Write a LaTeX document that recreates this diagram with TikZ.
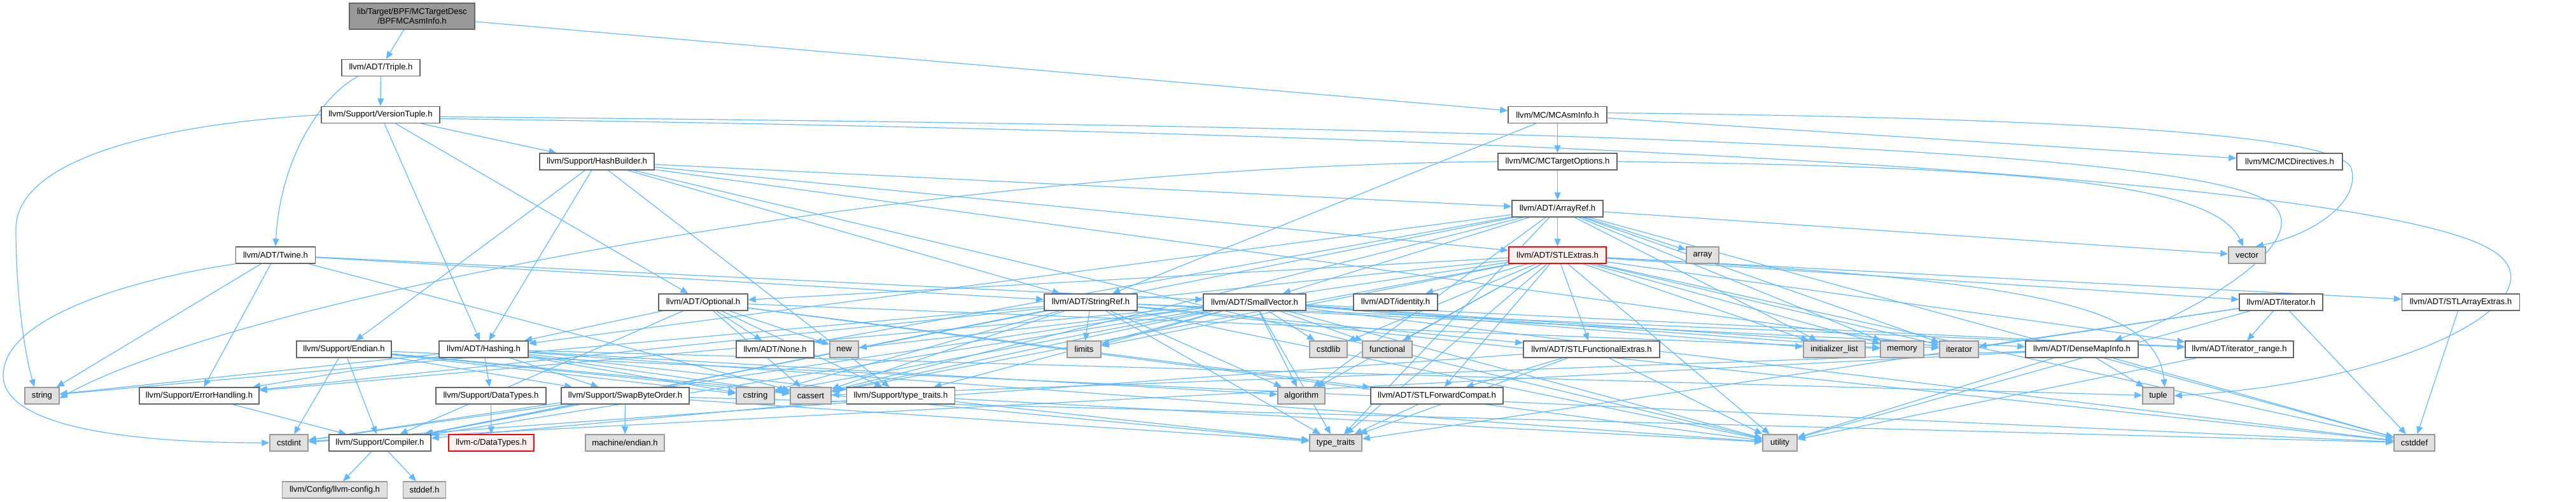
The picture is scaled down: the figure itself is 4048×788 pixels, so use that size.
\documentclass[tikz,border=0pt]{standalone}
\usepackage{fontspec}
\setmainfont{Liberation Sans}
\usetikzlibrary{arrows.meta}
\definecolor{edgeblue}{HTML}{63B8FF}
\definecolor{bordgray}{HTML}{666666}
\definecolor{sysfill}{HTML}{E0E0E0}
\definecolor{sysdraw}{HTML}{999999}
\definecolor{rootfill}{HTML}{999999}
\definecolor{truncfill}{HTML}{FFF0F0}
\definecolor{truncdraw}{HTML}{FF0000}
\pgfdeclarelayer{bg}
\pgfsetlayers{bg,main}
\begin{document}
\begin{tikzpicture}[x=1pt,y=-1pt,
  base/.style={inner sep=0pt, minimum height=26pt, line width=1.5pt,
    font=\fontsize{13.1}{15.5}\selectfont, text=black},
  nd/.style={base, draw=bordgray, fill=white},
  sys/.style={base, draw=sysdraw, fill=sysfill},
  trunc/.style={base, draw=truncdraw, fill=truncfill},
  rootn/.style={base, draw=bordgray, fill=rootfill, align=center},
  dep/.style={draw=edgeblue, line width=1.2pt, -{Triangle[length=12pt,width=10pt]}}]
\useasboundingbox (0,0) rectangle (4048,788);

\node[rootn, minimum width=197, minimum height=41] (root) at (647.5,25.5) {lib/Target/BPF/MCTargetDesc\\/BPFMCAsmInfo.h};
\node[nd, minimum width=123] (triple) at (598.5,106.5) {llvm/ADT/Triple.h};
\node[nd, minimum width=186] (vtuple) at (598,180.5) {llvm/Support/VersionTuple.h};
\node[nd, minimum width=155] (mcasm) at (2447.5,180.5) {llvm/MC/MCAsmInfo.h};
\node[nd, minimum width=166] (mcdir) at (3598,254) {llvm/MC/MCDirectives.h};
\node[nd, minimum width=187] (mctopt) at (2447.5,254) {llvm/MC/MCTargetOptions.h};
\node[nd, minimum width=180] (hashb) at (938,254) {llvm/Support/HashBuilder.h};
\node[nd, minimum width=143] (arrayref) at (2447.5,328) {llvm/ADT/ArrayRef.h};
\node[nd, minimum width=125] (twine) at (433,401) {llvm/ADT/Twine.h};
\node[trunc, minimum width=153] (stlext) at (2447.5,401) {llvm/ADT/STLExtras.h};
\node[sys, minimum width=51] (array) at (2675.5,401) {array};
\node[sys, minimum width=58] (vector) at (3531,401) {vector};
\node[nd, minimum width=140] (optional) at (1105,475) {llvm/ADT/Optional.h};
\node[nd, minimum width=146] (stringref) at (1714,475) {llvm/ADT/StringRef.h};
\node[nd, minimum width=161] (smallvec) at (1971.5,475) {llvm/ADT/SmallVector.h};
\node[nd, minimum width=132] (identity) at (2193,475) {llvm/ADT/identity.h};
\node[nd, minimum width=131] (iterh) at (3584.5,475) {llvm/ADT/iterator.h};
\node[nd, minimum width=185] (stlarr) at (3867,475) {llvm/ADT/STLArrayExtras.h};
\node[nd, minimum width=149] (endian) at (540.5,549) {llvm/Support/Endian.h};
\node[nd, minimum width=140] (hashing) at (760,549) {llvm/ADT/Hashing.h};
\node[nd, minimum width=122] (none) at (1218,549) {llvm/ADT/None.h};
\node[sys, minimum width=45] (new) at (1326.5,549) {new};
\node[sys, minimum width=53] (limits) at (1703.5,549) {limits};
\node[sys, minimum width=59] (cstdlib) at (2087.5,549) {cstdlib};
\node[sys, minimum width=78] (functional) at (2180,549) {functional};
\node[nd, minimum width=214] (stlfunc) at (2501,549) {llvm/ADT/STLFunctionalExtras.h};
\node[sys, minimum width=97] (initlist) at (2882.5,549) {initializer\_list};
\node[sys, minimum width=68] (memory) at (2989,549) {memory};
\node[sys, minimum width=61] (iterator) at (3078.5,549) {iterator};
\node[nd, minimum width=170] (iterrange) at (3519,549) {llvm/ADT/iterator\_range.h};
\node[nd, minimum width=177] (densemap) at (3271.5,549) {llvm/ADT/DenseMapInfo.h};
\node[sys, minimum width=54] (string) at (66,622) {string};
\node[nd, minimum width=188] (errh) at (313,622) {llvm/Support/ErrorHandling.h};
\node[nd, minimum width=173] (datatypes) at (771.5,622) {llvm/Support/DataTypes.h};
\node[nd, minimum width=201] (swapbo) at (982.5,622) {llvm/Support/SwapByteOrder.h};
\node[sys, minimum width=60] (cstring) at (1187,622) {cstring};
\node[sys, minimum width=64] (cassert) at (1274,622) {cassert};
\node[nd, minimum width=170] (stypetr) at (1415.5,622) {llvm/Support/type\_traits.h};
\node[sys, minimum width=74] (algorithm) at (2045,622) {algorithm};
\node[nd, minimum width=208] (stlfwd) at (2258,622) {llvm/ADT/STLForwardCompat.h};
\node[sys, minimum width=49] (tuple) at (3391.5,622) {tuple};
\node[sys, minimum width=60] (cstdint) at (454,696) {cstdint};
\node[nd, minimum width=160] (compiler) at (597,696) {llvm/Support/Compiler.h};
\node[trunc, minimum width=134] (cdatatypes) at (772,696) {llvm-c/DataTypes.h};
\node[sys, minimum width=124] (mendian) at (982,696) {machine/endian.h};
\node[sys, minimum width=82] (typetraits) at (2099,696) {type\_traits};
\node[sys, minimum width=54] (utility) at (2797,696) {utility};
\node[sys, minimum width=64] (cstddef) at (3794,696) {cstddef};
\node[sys, minimum width=165] (llvmconfig) at (526,770) {llvm/Config/llvm-config.h};
\node[sys, minimum width=67] (stddefh) at (667,770) {stddef.h};

\begin{pgfonlayer}{bg}
\foreach \a/\b in {root/triple, root/mcasm, triple/vtuple,
  vtuple/hashing, vtuple/optional, vtuple/hashb,
  hashb/arrayref, hashb/hashing, hashb/stlext, hashb/stringref, hashb/endian, hashb/stypetr, hashb/iterator, hashb/utility,
  mcasm/stringref, mcasm/mcdir, mcasm/mctopt, mctopt/arrayref,
  arrayref/hashing, arrayref/none, arrayref/stlext, arrayref/smallvec, arrayref/compiler, arrayref/algorithm, arrayref/array, arrayref/cassert, arrayref/cstddef, arrayref/initlist, arrayref/iterator, arrayref/memory, arrayref/typetraits, arrayref/vector,
  twine/smallvec, twine/stringref, twine/errh, twine/cassert, twine/string,
  stlext/optional, stlext/stlarr, stlext/stlfwd, stlext/stlfunc, stlext/identity, stlext/iterh, stlext/iterrange, stlext/errh, stlext/algorithm, stlext/cassert, stlext/cstddef, stlext/cstdint, stlext/cstdlib, stlext/functional, stlext/initlist, stlext/iterator, stlext/limits, stlext/memory, stlext/typetraits, stlext/utility,
  optional/hashing, optional/none, optional/stlfwd, optional/compiler, optional/stypetr, optional/cassert, optional/memory, optional/new, optional/utility,
  stringref/densemap, stringref/stlfunc, stringref/iterrange, stringref/compiler, stringref/algorithm, stringref/cassert, stringref/cstddef, stringref/cstring, stringref/limits, stringref/string, stringref/typetraits, stringref/utility,
  smallvec/iterrange, smallvec/compiler, smallvec/errh, smallvec/stypetr, smallvec/algorithm, smallvec/cassert, smallvec/cstddef, smallvec/cstdlib, smallvec/cstring, smallvec/functional, smallvec/initlist, smallvec/iterator, smallvec/limits, smallvec/memory, smallvec/new, smallvec/typetraits, smallvec/utility,
  iterh/iterrange, iterh/cstddef, iterh/iterator, iterh/typetraits, iterh/utility,
  stlarr/cstddef,
  endian/compiler, endian/swapbo, endian/cassert, endian/cstddef, endian/cstdint, endian/cstring, endian/typetraits,
  hashing/datatypes, hashing/errh, hashing/swapbo, hashing/stypetr, hashing/algorithm, hashing/cassert, hashing/cstring, hashing/string, hashing/tuple, hashing/utility,
  stlfunc/stlfwd, stlfunc/typetraits, stlfunc/utility, stlfunc/cstdint,
  densemap/cassert, densemap/cstddef, densemap/cstdint, densemap/tuple, densemap/utility,
  iterrange/utility,
  stypetr/compiler, stypetr/typetraits, stypetr/utility,
  swapbo/compiler, swapbo/cstddef, swapbo/cstdint, swapbo/typetraits, swapbo/mendian,
  errh/compiler, datatypes/cdatatypes, compiler/llvmconfig, compiler/stddefh,
  stlfwd/typetraits}
  \draw[dep] (\a) -- (\b);

\draw[dep] ([xshift=-36]triple.south) .. controls (505,150) and (440,250) .. (twine.north);
\draw[dep] (vtuple.west) .. controls (250,195) and (25,250) .. (25,360) .. controls (25,470) and (40,560) .. ([xshift=-12]string.north);
\draw[dep] (twine.south west) .. controls (200,440) and (5,500) .. (5,590) .. controls (5,670) and (200,696) .. (cstdint.west);
\draw[dep] ([yshift=-3]vtuple.east) .. controls (2600,200) and (3460,240) .. (3570,320) .. controls (3640,380) and (3450,490) .. ([xshift=-38]densemap.north east);
\draw[dep] ([yshift=-6]vtuple.east) .. controls (2800,215) and (3750,300) .. (3910,390) .. controls (4040,460) and (3800,600) .. (tuple.east);
\draw[dep] ([yshift=3]mcasm.east) .. controls (3300,185) and (3680,215) .. (3695,265) .. controls (3710,320) and (3630,370) .. ([xshift=14]vector.north);
\draw[dep] (mctopt.east) .. controls (3200,262) and (3480,290) .. ([xshift=-6]vector.north);
\draw[dep] ([yshift=-4]stlext.east) .. controls (3200,440) and (3390,480) .. ([xshift=10]tuple.north);
\draw[dep] (mctopt.west) .. controls (1400,262) and (350,480) .. ([yshift=-4]string.east);
\end{pgfonlayer}
\end{tikzpicture}
\end{document}
